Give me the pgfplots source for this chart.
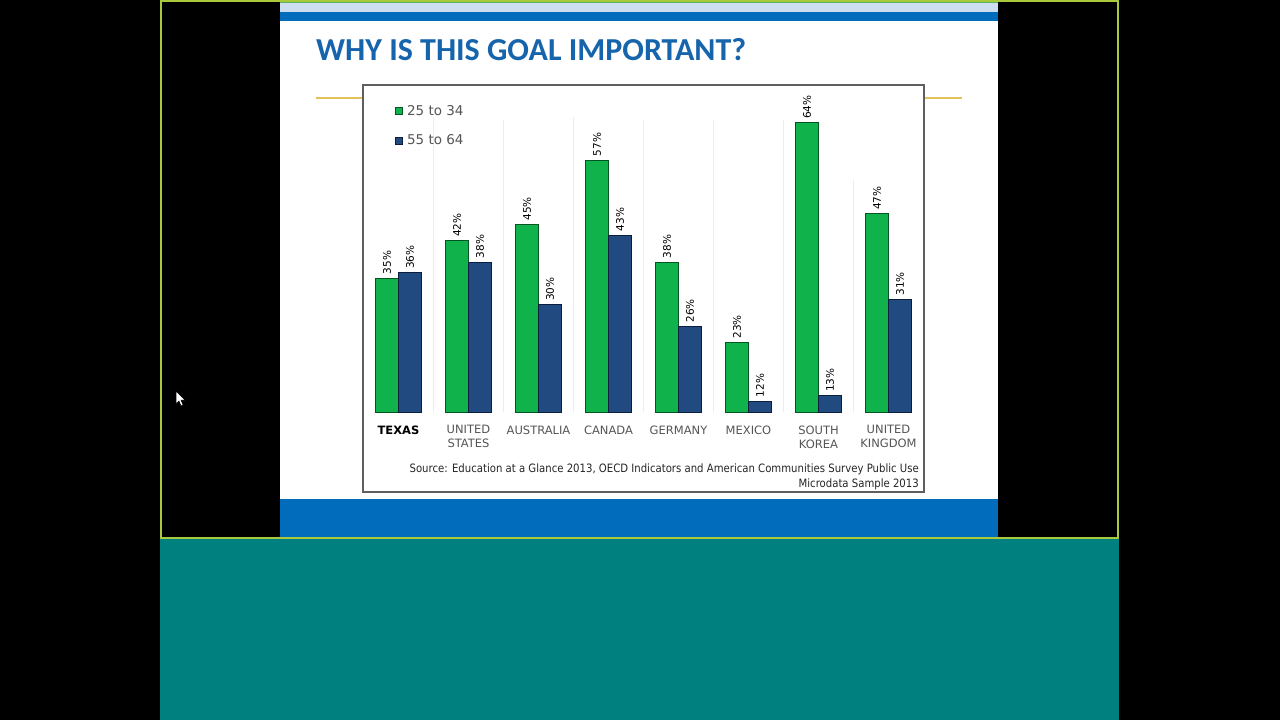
\documentclass[border=0pt]{standalone}
\usepackage{pgfplots}
\pgfplotsset{compat=1.18}
\usepackage{fontspec}
\setmainfont{DejaVu Sans}
\newfontfamily\carlito{Carlito}
\definecolor{tealbg}{RGB}{0,128,126}
\definecolor{framecol}{RGB}{170,200,60}
\definecolor{topgreen}{RGB}{90,180,90}
\definecolor{lightband}{RGB}{205,222,240}
\definecolor{slideblue}{RGB}{2,108,188}
\definecolor{titleblue}{RGB}{22,100,172}
\definecolor{gold}{RGB}{228,192,90}
\definecolor{boxgray}{RGB}{95,95,95}
\definecolor{labelgray}{RGB}{85,85,85}
\definecolor{bargreen}{RGB}{16,178,76}
\definecolor{bargreenedge}{RGB}{0,85,35}
\definecolor{barblue}{RGB}{33,75,128}
\definecolor{barblueedge}{RGB}{12,30,62}
\begin{document}
\begin{tikzpicture}[x=1pt,y=-1pt]
\fill[black] (0,0) rectangle (1280,720);
\useasboundingbox (0,0) rectangle (1280,720);
\fill[tealbg] (160,538) rectangle (1119,720);
\fill[white] (280,0) rectangle (998,537);
\fill[topgreen] (280,0) rectangle (998,2.5);
\fill[lightband] (280,2.5) rectangle (998,12);
\fill[slideblue] (280,12) rectangle (998,21);
\fill[slideblue] (280,499) rectangle (998,537.5);
\draw[framecol, line width=1.3pt] (161,1) rectangle (1118,538);
\node[anchor=base west, text=titleblue, font=\carlito\bfseries\fontsize{32}{36}\selectfont, inner sep=0] at (316,60) {WHY IS THIS GOAL IMPORTANT?};
\draw[gold, line width=2pt] (316,98) -- (962,98);
\fill[white] (363,85) rectangle (924,492);
\draw[boxgray, line width=1.3pt] (363,85) rectangle (924,492);
\coordinate (axorig) at (363,412);
\begin{axis}[
  at={(axorig)}, anchor=south west, scale only axis,
  width=561pt, height=324pt,
  xmin=-0.507, xmax=7.507, ymin=10, ymax=70.5,
  axis line style={draw=none}, tick style={draw=none},
  ytick=\empty, xtick={0,...,7},
  xticklabels={\raisebox{-4pt}{\textcolor{black}{\bfseries TEXAS}}, UNITED\\STATES, AUSTRALIA, CANADA, GERMANY, MEXICO, SOUTH\\KOREA, UNITED\\KINGDOM},
  xticklabel style={align=center, font=\fontsize{11.5}{14}\selectfont, text=labelgray, anchor=north, inner sep=0pt, yshift=-9pt},
  ybar=0pt, bar width=23pt,
  nodes near coords={\pgfmathprintnumber{\pgfplotspointmeta}\%},
  every node near coord/.append style={font=\fontsize{10.5}{12}\selectfont, rotate=90, anchor=west, inner sep=3.5pt, text=black, /pgf/number format/assume math mode=true},
  legend style={at={(0.057,0.95)}, anchor=north west, draw=none, fill=none, font=\fontsize{13.5}{16}\selectfont, text=labelgray, row sep=16pt, inner sep=0pt, nodes={inner sep=1pt, inner xsep=4pt}},
  legend cell align=left,
  legend image code/.code={\fill[#1] (0pt,-3.5pt) rectangle (7pt,3.5pt);},
]
\draw[black!7, line width=1pt] (axis cs:0.5,65) -- (axis cs:0.5,10);
\draw[black!7, line width=1pt] (axis cs:1.5,64.5) -- (axis cs:1.5,10);
\draw[black!7, line width=1pt] (axis cs:2.5,65) -- (axis cs:2.5,10);
\draw[black!7, line width=1pt] (axis cs:3.5,64.5) -- (axis cs:3.5,10);
\draw[black!7, line width=1pt] (axis cs:4.5,64.5) -- (axis cs:4.5,10);
\draw[black!7, line width=1pt] (axis cs:5.5,64.5) -- (axis cs:5.5,10);
\draw[black!7, line width=1pt] (axis cs:6.5,53.3) -- (axis cs:6.5,10);
\addplot[fill=bargreen, draw=bargreenedge, line width=0.9pt] coordinates {(0,35) (1,42) (2,45) (3,57) (4,38) (5,23) (6,64) (7,47)};
\addlegendentry{25 to 34}
\addplot[fill=barblue, draw=barblueedge, line width=0.9pt] coordinates {(0,36) (1,38) (2,30) (3,43) (4,26) (5,12) (6,13) (7,31)};
\addlegendentry{55 to 64}
\end{axis}
\node[anchor=base east, inner sep=0, text=black!85, font=\fontsize{11.5}{13}\selectfont] at (919,472) {\scalebox{0.88}[1]{Source: Education at a Glance 2013, OECD Indicators and American Communities Survey Public Use}};
\node[anchor=base east, inner sep=0, text=black!85, font=\fontsize{11.5}{13}\selectfont] at (919,487) {\scalebox{0.88}[1]{Microdata Sample 2013}};
\filldraw[fill=white, draw=black, line width=0.5pt] (176,391) -- (176,404) -- (179,401) -- (181,406) -- (183,405) -- (181,400) -- (185,400) -- cycle;
\end{tikzpicture}
\end{document}
